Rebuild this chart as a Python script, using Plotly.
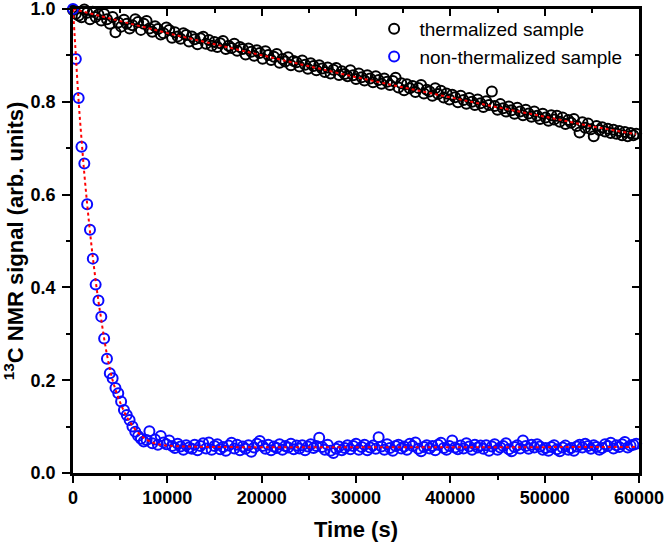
import plotly.graph_objects as go

# ---- data ----
time_s = list(range(0, 60000, 300))  # measurement times, 300 s sampling

thermalized = [
    0.998, 0.990, 0.986, 0.982, 0.999, 0.992, 0.978, 0.994, 0.983, 0.988,
    0.975, 0.989, 0.978, 0.968, 0.983, 0.950, 0.971, 0.962, 0.977, 0.968,
    0.958, 0.965, 0.978, 0.972, 0.955, 0.968, 0.974, 0.958, 0.951, 0.963,
    0.957, 0.945, 0.948, 0.960, 0.955, 0.938, 0.950, 0.941, 0.936, 0.948,
    0.944, 0.930, 0.941, 0.935, 0.924, 0.937, 0.940, 0.925, 0.933, 0.921,
    0.929, 0.918, 0.926, 0.931, 0.914, 0.921, 0.916, 0.925, 0.910, 0.918,
    0.914, 0.902, 0.915, 0.908, 0.899, 0.911, 0.905, 0.893, 0.909, 0.901,
    0.890, 0.897, 0.903, 0.884, 0.892, 0.887, 0.896, 0.879, 0.888, 0.885,
    0.876, 0.889, 0.880, 0.871, 0.883, 0.877, 0.868, 0.879, 0.872, 0.864,
    0.874, 0.861, 0.869, 0.873, 0.858, 0.866, 0.860, 0.855, 0.868, 0.857,
    0.849, 0.861, 0.853, 0.846, 0.857, 0.850, 0.842, 0.855, 0.847, 0.839,
    0.850, 0.843, 0.836, 0.845, 0.852, 0.831, 0.840, 0.825, 0.838, 0.829,
    0.834, 0.821, 0.830, 0.836, 0.818, 0.826, 0.822, 0.813, 0.829, 0.817,
    0.824, 0.809, 0.818, 0.805, 0.815, 0.810, 0.799, 0.813, 0.804, 0.796,
    0.808, 0.800, 0.793, 0.805, 0.797, 0.789, 0.801, 0.793, 0.822, 0.791,
    0.783, 0.795, 0.786, 0.779, 0.790, 0.782, 0.774, 0.787, 0.779, 0.771,
    0.783, 0.775, 0.768, 0.779, 0.770, 0.763, 0.774, 0.766, 0.759, 0.771,
    0.762, 0.770, 0.757, 0.766, 0.752, 0.761, 0.755, 0.763, 0.748, 0.734,
    0.756, 0.744, 0.753, 0.741, 0.726, 0.748, 0.739, 0.745, 0.736, 0.742,
    0.733, 0.740, 0.731, 0.737, 0.728, 0.735, 0.726, 0.733, 0.728, 0.731,
]

non_thermalized = [
    1.000, 0.892, 0.808, 0.703, 0.667, 0.579, 0.524, 0.462, 0.406, 0.372,
    0.337, 0.290, 0.246, 0.215, 0.204, 0.183, 0.172, 0.154, 0.136, 0.125,
    0.114, 0.100, 0.089, 0.080, 0.074, 0.068, 0.071, 0.090, 0.064, 0.072,
    0.061, 0.080, 0.066, 0.062, 0.070, 0.058, 0.054, 0.063, 0.057, 0.050,
    0.060, 0.055, 0.052, 0.061, 0.049, 0.058, 0.064, 0.053, 0.066, 0.050,
    0.058, 0.062, 0.051, 0.056, 0.048, 0.059, 0.065, 0.053, 0.061, 0.049,
    0.057, 0.052, 0.060, 0.046, 0.055, 0.063, 0.069, 0.058, 0.052, 0.061,
    0.049, 0.057, 0.054, 0.062, 0.050, 0.058, 0.055, 0.063, 0.051, 0.059,
    0.053, 0.060, 0.049, 0.057, 0.062, 0.054, 0.058, 0.076, 0.056, 0.050,
    0.061, 0.048, 0.043, 0.052, 0.057, 0.049, 0.054, 0.060, 0.051, 0.058,
    0.063, 0.050, 0.056, 0.061, 0.049, 0.055, 0.059, 0.052, 0.077, 0.057,
    0.050, 0.062, 0.054, 0.048, 0.058, 0.061, 0.053, 0.057, 0.050, 0.063,
    0.058, 0.066, 0.052, 0.047, 0.056, 0.060, 0.053, 0.058, 0.049, 0.061,
    0.065, 0.054, 0.050, 0.058, 0.070, 0.055, 0.051, 0.059, 0.053, 0.064,
    0.057, 0.050, 0.061, 0.055, 0.059, 0.052, 0.060, 0.048, 0.057, 0.062,
    0.050, 0.055, 0.058, 0.064, 0.051, 0.047, 0.056, 0.060, 0.053, 0.070,
    0.058, 0.052, 0.061, 0.055, 0.062, 0.057, 0.050, 0.054, 0.048, 0.056,
    0.060, 0.051, 0.047, 0.055, 0.059, 0.050, 0.054, 0.048, 0.057, 0.061,
    0.055, 0.063, 0.058, 0.052, 0.060, 0.056, 0.050, 0.054, 0.062, 0.058,
    0.065, 0.053, 0.060, 0.056, 0.062, 0.067, 0.055, 0.059, 0.061, 0.063,
]

# fitted curves
fit_thermal_t = [0, 5000, 10000, 15000, 20000, 25000, 30000, 35000, 40000,
                 45000, 50000, 55000, 59700]
fit_thermal_v = [1.000, 0.974, 0.948, 0.924, 0.900, 0.876, 0.853, 0.831,
                 0.809, 0.788, 0.768, 0.747, 0.730]

fit_non_t = [0, 300, 600, 900, 1200, 1500, 1800, 2100, 2400, 2700, 3000,
             3300, 3600, 3900, 4200, 4500, 4800, 5100, 5400, 5700, 6000,
             6600, 7200, 7800, 8400, 9000, 10000, 12000, 15000, 59700]
fit_non_v = [1.000, 0.900, 0.800, 0.720, 0.645, 0.580, 0.520, 0.465, 0.415,
             0.370, 0.330, 0.290, 0.255, 0.225, 0.200, 0.180, 0.162, 0.147,
             0.133, 0.121, 0.111, 0.094, 0.081, 0.072, 0.066, 0.062, 0.059,
             0.057, 0.056, 0.056]

x_ticks = [0, 10000, 20000, 30000, 40000, 50000, 60000]
y_ticks = [0.0, 0.2, 0.4, 0.6, 0.8, 1.0]

FONT = "Liberation Sans, Arial, sans-serif"
BLUE = "#0a0aff"

fig = go.Figure()
fig.add_trace(go.Scatter(
    x=time_s, y=thermalized, mode="markers",
    name="\u00a0thermalized sample",
    marker=dict(symbol="circle-open", size=10, color="black",
                line=dict(width=2, color="black")),
    cliponaxis=False))
fig.add_trace(go.Scatter(
    x=time_s, y=non_thermalized, mode="markers",
    name="\u00a0non-thermalized sample",
    marker=dict(symbol="circle-open", size=10, color=BLUE,
                line=dict(width=2, color=BLUE)),
    cliponaxis=False))
fig.add_trace(go.Scatter(
    x=fit_thermal_t, y=fit_thermal_v, mode="lines", showlegend=False,
    line=dict(color="red", width=2, dash="dot")))
fig.add_trace(go.Scatter(
    x=fit_non_t, y=fit_non_v, mode="lines", showlegend=False,
    line=dict(color="red", width=2, dash="dot"), line_shape="spline"))
# dummy trace to activate the mirror axes (top/right with inward ticks)
fig.add_trace(go.Scatter(x=[None], y=[None], xaxis="x2", yaxis="y2",
                         showlegend=False, hoverinfo="skip"))

axis_common = dict(showline=True, linecolor="black", linewidth=2.5,
                   showgrid=False, zeroline=False, tickcolor="black",
                   tickwidth=2, automargin=False)

fig.update_layout(
    width=665, height=546,
    margin=dict(l=73, r=26, t=9, b=73),
    paper_bgcolor="white", plot_bgcolor="white",
    font=dict(family=FONT, color="black"),
    xaxis=dict(**axis_common, range=[0, 60000], tickvals=x_ticks,
               tickformat="d", ticks="outside", ticklen=7,
               ticklabeloverflow="allow",
               tickfont=dict(size=18, family=FONT, weight="bold"),
               minor=dict(dtick=5000, tick0=0, ticks="outside", ticklen=4,
                          tickwidth=2, tickcolor="black"),
               title=dict(text="<b>Time (s)</b>", font=dict(size=22))),
    yaxis=dict(**axis_common, range=[0, 1.0], tickvals=y_ticks,
               tickformat=".1f", ticks="outside", ticklen=8,
               ticklabeloverflow="allow", ticklabelstandoff=3,
               tickfont=dict(size=18, family=FONT, weight="bold"),
               minor=dict(dtick=0.1, tick0=0, ticks="outside", ticklen=4,
                          tickwidth=2, tickcolor="black"),
               title=dict(text="<b><sup>13</sup>C NMR signal (arb. units)</b>",
                          font=dict(size=22))),
    xaxis2=dict(**axis_common, overlaying="x", side="top", anchor="y",
                range=[0, 60000], tickvals=x_ticks, ticks="inside",
                ticklen=7, showticklabels=False,
                minor=dict(dtick=5000, tick0=0, ticks="inside", ticklen=4,
                           tickwidth=2, tickcolor="black")),
    yaxis2=dict(**axis_common, overlaying="y", side="right", anchor="x",
                range=[0, 1.0], tickvals=y_ticks, ticks="inside",
                ticklen=7, showticklabels=False,
                minor=dict(dtick=0.1, tick0=0, ticks="inside", ticklen=4,
                           tickwidth=2, tickcolor="black")),
    legend=dict(x=0.532, y=0.998, xanchor="left", yanchor="top",
                bgcolor="rgba(0,0,0,0)", borderwidth=0,
                font=dict(size=19, family=FONT), tracegroupgap=0,
                itemsizing="trace"),
)

fig.write_html("out.html",
               config={"displayModeBar": False},
               post_script="document.body.style.margin='0';"
                           "document.body.style.padding='0';")
